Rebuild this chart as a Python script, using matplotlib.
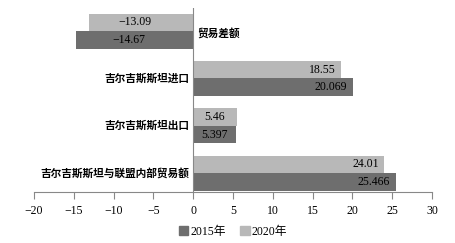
import numpy as np
import matplotlib.pyplot as plt
from matplotlib.patches import Patch

# dados (bilhões de dólares)
categorias = ['吉尔吉斯斯坦与联盟内部贸易额', '吉尔吉斯斯坦出口', '吉尔吉斯斯坦进口', '贸易差额']
valores_2015 = [25.466, 5.397, 20.069, -14.67]
valores_2020 = [24.01, 5.46, 18.55, -13.09]
rotulos_2015 = ['25.466', '5.397', '20.069', '−14.67']
rotulos_2020 = ['24.01', '5.46', '18.55', '−13.09']
ticks_x = [-20, -15, -10, -5, 0, 5, 10, 15, 20, 25, 30]

cor_2015 = '#6e6e6e'
cor_2020 = '#b8b8b8'
fonte = ['Liberation Serif', 'Noto Sans CJK SC']
plt.rcParams['font.family'] = fonte

fig = plt.figure(figsize=(4.56, 2.43), dpi=100)
ax = fig.add_axes([34 / 456, 51 / 243, 398 / 456, 184 / 243])

y = np.arange(len(categorias))
altura = 0.37
ax.barh(y - altura / 2, valores_2015, height=altura, color=cor_2015, label='2015年')
ax.barh(y + altura / 2, valores_2020, height=altura, color=cor_2020, label='2020年')

# rótulos de valores
def rotular(valores, rotulos, deslocamento):
    for i, (v, r) in enumerate(zip(valores, rotulos)):
        if v < 0 or v < 8:
            ax.text(v / 2 - (0.8 if v < 0 else 0), i + deslocamento, r, ha='center', va='center', fontsize=8.5)
        else:
            ax.text(v - 0.7, i + deslocamento, r, ha='right', va='center', fontsize=8.5)

rotular(valores_2015, rotulos_2015, -altura / 2)
rotular(valores_2020, rotulos_2020, altura / 2)

# nomes das categorias junto ao eixo zero
for i, (nome, v) in enumerate(zip(categorias, valores_2015)):
    if v < 0:
        ax.text(0.5, i - 0.05, nome, ha='left', va='center', fontsize=7.7, fontweight='bold')
    else:
        ax.text(-0.5, i, nome, ha='right', va='center', fontsize=7.7, fontweight='bold')

ax.set_xlim(-20, 30)
ax.set_ylim(-0.40, 3.49)
ax.set_xticks(ticks_x)
ax.set_xticklabels([str(t).replace('-', '−') for t in ticks_x], fontsize=8.5)
ax.set_yticks([])
ax.axvline(0, color='#888888', linewidth=0.8)

for lado in ['top', 'right', 'left']:
    ax.spines[lado].set_visible(False)
ax.spines['bottom'].set_color('#888888')
ax.tick_params(axis='x', direction='out', length=5, color='#888888', pad=4)

ax.legend(handles=[Patch(color=cor_2015, label='2015年'), Patch(color=cor_2020, label='2020年')],
          loc='center', bbox_to_anchor=(0.5, -0.215), ncol=2, frameon=False, borderpad=0,
          fontsize=8.5, handlelength=0.8, handleheight=0.8, handletextpad=0.2, columnspacing=1.2)

fig.savefig('out.png', dpi=100)
